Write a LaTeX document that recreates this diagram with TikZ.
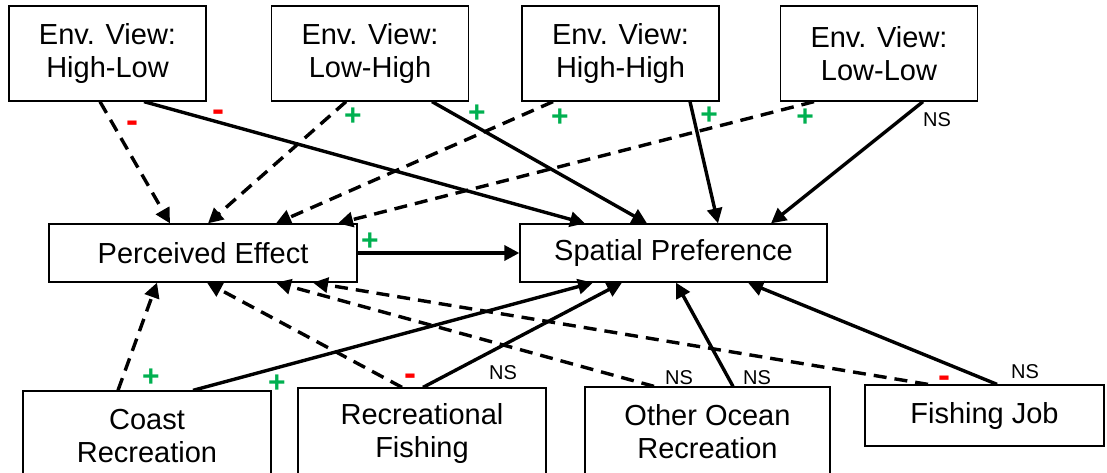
\documentclass[tikz,border=0pt]{standalone}
\usepackage{fontspec}
\setmainfont{Liberation Sans}
\usetikzlibrary{arrows.meta}
\definecolor{plusgreen}{HTML}{00B050}
\definecolor{minusred}{HTML}{FF0000}

\tikzset{
  varbox/.style={draw, line width=1.3pt, align=center, inner sep=0pt,
    font=\fontsize{29}{33}\selectfont},
  topbox/.style={varbox, minimum width=197pt, minimum height=95pt},
  linksolid/.style={line width=3.4pt, -{Triangle[length=15pt,width=15pt]}},
  linkdashed/.style={linksolid, dash pattern=on 13pt off 8pt},
  signplus/.style={inner sep=0pt, text=plusgreen, font=\bfseries\fontsize{30}{30}\selectfont},
  signminus/.style={inner sep=0pt, text=minusred, font=\bfseries\fontsize{36}{36}\selectfont},
  nslabel/.style={inner sep=0pt, font=\fontsize{20}{20}\selectfont},
}

\begin{document}
\begin{tikzpicture}[x=1pt,y=-1pt]
  \useasboundingbox (0,0) rectangle (1107,473);
  \clip (0,0) rectangle (1107,473);
  % top row: environmental views
  \foreach \name/\x/\txt in {hl/107.5/High-Low, lh/370/Low-High, hh/620.5/High-High, ll/879/Low-Low}{
    \node[topbox] (\name) at (\x,53.5) {Env. View:\\\txt};
  }
  % middle row
  \node[varbox, minimum width=308pt, minimum height=58pt] (pe) at (203,253) {Perceived Effect};
  \node[varbox, minimum width=307pt, minimum height=58pt] (sp) at (673.5,253) {Spatial Preference};
  % bottom row: activities
  \node[varbox, minimum width=248pt, minimum height=90pt] (cr) at (147,436) {Coast\\Recreation};
  \node[varbox, minimum width=248pt, minimum height=90pt] (rf) at (422,433) {Recreational\\Fishing};
  \node[varbox, minimum width=245pt, minimum height=90pt] (oor) at (707.5,432) {Other Ocean\\Recreation};
  \node[varbox, minimum width=239pt, minimum height=61pt] (fj) at (984.5,415.5) {Fishing Job};

  % links from the views
  \draw[linkdashed] ([xshift=-7.5pt]hl.south) -- ([xshift=-33pt]pe.north);
  \draw[linksolid] ([xshift=36.5pt]hl.south) -- ([xshift=-88.5pt]sp.north);
  \draw[linkdashed] ([xshift=-24pt]lh.south) -- ([xshift=5pt]pe.north);
  \draw[linksolid] ([xshift=62pt]lh.south) -- ([xshift=-26.5pt]sp.north);
  \draw[linkdashed] ([xshift=-67.5pt]hh.south) -- ([xshift=73pt]pe.north);
  \draw[linksolid] ([xshift=69.5pt]hh.south) -- ([xshift=44.5pt]sp.north);
  \draw[linkdashed] ([xshift=-65pt]ll.south) -- ([xshift=135pt]pe.north);
  \draw[linksolid] ([xshift=44pt]ll.south) -- ([xshift=97.5pt]sp.north);
  \draw[linksolid] (pe.east) -- (sp.west);
  % links from the activities
  \draw[linkdashed] ([xshift=-29pt]cr.north) -- ([xshift=-46pt]pe.south);
  \draw[linksolid] ([xshift=46pt]cr.north) -- ([xshift=-80.5pt]sp.south);
  \draw[linkdashed] ([xshift=-20pt]rf.north) -- ([xshift=4pt]pe.south);
  \draw[linksolid] ([xshift=1pt]rf.north) -- ([xshift=-51.5pt]sp.south);
  \draw[linkdashed] ([xshift=-53.5pt]oor.north) -- ([xshift=73pt]pe.south);
  \draw[linksolid] ([xshift=25.5pt]oor.north) -- ([xshift=2.5pt]sp.south);
  \draw[linkdashed] ([xshift=-56.5pt]fj.north) -- ([xshift=110pt]pe.south);
  \draw[linksolid] ([xshift=12.5pt]fj.north) -- ([xshift=74.5pt]sp.south);

  % signs
  \node[signminus] (s1) at (132,127) {-};
  \node[signminus] (s2) at (218,116) {-};
  \node[signplus] (s3) at (353,117) {+};
  \node[signplus] (s4) at (477,114) {+};
  \node[signplus] (s5) at (560,118) {+};
  \node[signplus] (s6) at (709,116) {+};
  \node[signplus] (s7) at (805,118) {+};
  \node[nslabel] (s8) at (937,120) {NS};
  \node[signplus] (s9) at (370,242) {+};
  \node[signplus] (s10) at (151,378) {+};
  \node[signplus] (s11) at (277,384) {+};
  \node[signminus] (s12) at (410,380) {-};
  \node[nslabel] (s13) at (503,373) {NS};
  \node[nslabel] (s14) at (679,378) {NS};
  \node[nslabel] (s15) at (757,378) {NS};
  \node[signminus] (s16) at (944,382) {-};
  \node[nslabel] (s17) at (1025,372) {NS};
\end{tikzpicture}
\end{document}
